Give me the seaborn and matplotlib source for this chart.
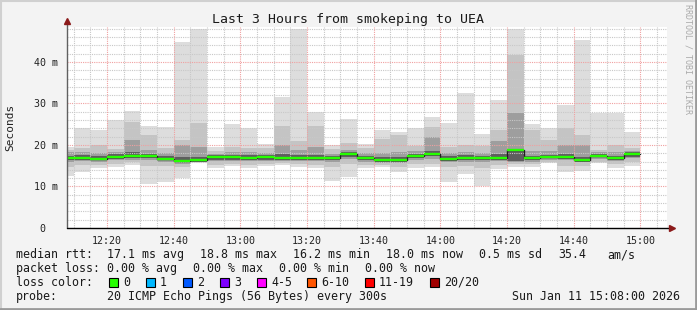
import numpy as np
import pandas as pd
import matplotlib
matplotlib.use("Agg")
import matplotlib.pyplot as plt
import matplotlib.dates as mdates
from matplotlib.patches import Rectangle
from matplotlib.lines import Line2D
import seaborn as sns

# ---------------- data ----------------
title = "Last 3 Hours from smokeping to UEA"
y_label = "Seconds"
bar_start = pd.date_range("2026-01-11 12:05", periods=35, freq="5min")

median = [16.9, 16.9, 16.7, 17.2, 17.4, 17.4, 16.7, 16.2, 16.4, 17.0, 17.0, 16.8, 17.0,
          16.9, 16.9, 16.9, 16.9, 17.8, 16.9, 16.4, 16.4, 17.3, 17.9, 16.7, 16.9, 16.9,
          16.9, 18.7, 16.9, 17.2, 17.2, 16.4, 17.4, 16.9, 17.8]
ping_max = [19.6, 24.2, 23.6, 26.0, 28.3, 24.6, 24.3, 44.7, 48.0, 19.4, 25.1, 24.0, 20.2,
            31.6, 48.0, 28.0, 19.9, 26.3, 20.2, 23.5, 23.1, 24.0, 26.8, 25.4, 32.6, 22.7,
            30.8, 48.0, 25.1, 24.2, 29.7, 45.3, 27.8, 27.8, 23.2]
ping_min = [12.5, 13.5, 14.5, 14.8, 15.3, 10.6, 11.2, 12.1, 15.6, 14.4, 14.9, 14.5, 14.9,
            15.2, 14.7, 14.5, 11.4, 12.4, 14.5, 14.7, 13.6, 14.5, 14.7, 11.0, 12.9, 10.2,
            14.1, 14.7, 14.7, 15.7, 13.6, 13.8, 15.6, 14.5, 15.0]
hi2 = [18.8, 19.3, 19.9, 19.1, 25.6, 22.4, 19.3, 21.2, 25.4, 18.5, 19.6, 19.3, 19.2,
       24.6, 21.0, 24.6, 19.0, 20.5, 19.2, 21.5, 22.4, 19.8, 24.4, 19.6, 19.9, 19.7,
       23.6, 41.7, 23.5, 21.2, 24.0, 22.4, 18.8, 20.0, 19.3]
lo2 = [14.8, 15.2, 15.2, 15.5, 15.8, 15.0, 15.0, 14.8, 15.8, 15.3, 15.5, 15.3, 15.5,
       15.6, 15.4, 15.3, 14.8, 15.5, 15.3, 15.2, 14.8, 15.5, 15.5, 14.6, 15.0, 14.5,
       15.3, 15.4, 15.4, 16.0, 15.0, 15.0, 16.0, 15.5, 15.8]
hi3 = [18.2, 18.4, 18.0, 18.4, 21.2, 18.8, 18.0, 20.0, 19.5, 17.9, 18.2, 18.2, 18.0,
       20.0, 18.8, 19.5, 17.9, 18.9, 18.0, 18.0, 18.2, 18.6, 22.0, 18.0, 18.3, 18.0,
       21.0, 27.8, 18.5, 18.6, 20.0, 20.0, 18.4, 18.3, 18.6]
lo3 = [16.0, 16.1, 15.9, 16.3, 16.4, 16.3, 15.8, 15.4, 16.0, 16.2, 16.2, 16.1, 16.2,
       16.2, 16.2, 16.1, 16.0, 16.6, 16.0, 15.7, 15.6, 16.4, 16.7, 15.8, 16.0, 16.0,
       16.1, 16.0, 16.0, 16.5, 16.3, 15.8, 16.6, 16.1, 16.8]
hi4 = [17.4, 17.5, 17.3, 17.8, 18.2, 17.8, 17.3, 17.2, 17.2, 17.5, 17.5, 17.5, 17.5,
       17.8, 17.6, 17.7, 17.4, 18.3, 17.4, 17.0, 17.0, 17.9, 18.6, 17.3, 17.5, 17.4,
       17.8, 18.9, 17.4, 17.7, 17.8, 17.2, 17.9, 17.4, 18.3]
lo4 = [16.4, 16.5, 16.3, 16.7, 16.8, 16.8, 16.3, 15.9, 16.0, 16.5, 16.5, 16.5, 16.5,
       16.5, 16.5, 16.5, 16.4, 17.2, 16.4, 16.0, 15.9, 16.8, 17.3, 16.2, 16.4, 16.4,
       16.4, 16.2, 16.4, 16.8, 16.7, 16.0, 17.0, 16.4, 17.2]

x_tick_labels = ["12:20", "12:40", "13:00", "13:20", "13:40", "14:00", "14:20", "14:40", "15:00"]
y_tick_values = [0, 10, 20, 30, 40]
y_tick_labels = ["0  ", "10 m", "20 m", "30 m", "40 m"]

loss_labels = ["0", "1", "2", "3", "4-5", "6-10", "11-19", "20/20"]
loss_colors = ["#26ff00", "#00b8ff", "#0059ff", "#7e00ff", "#ff00ff", "#ff5500", "#ff0000", "#a10000"]

# ---------------- style ----------------
sns.set_style("white")
plt.rcParams['font.family'] = ['DejaVu Sans Mono', 'DejaVu Sans']

W, H = 697, 310
fig = plt.figure(figsize=(W / 100, H / 100), dpi=100, facecolor='#f3f3f3')
ax = fig.add_axes([67 / W, (H - 228) / H, 600 / W, 201 / H])
ax.set_facecolor('white')

xs = mdates.date2num(bar_start.to_pydatetime())
w = 5 / 1440.0
x0 = mdates.date2num(pd.Timestamp("2026-01-11 12:08").to_pydatetime())
x1 = mdates.date2num(pd.Timestamp("2026-01-11 15:08").to_pydatetime())
ax.set_xlim(x0, x1)
ax.set_ylim(0, 48.43)

bands = [(ping_min, ping_max, '#dddddd'), (lo2, hi2, '#c4c4c4'),
         (lo3, hi3, '#9e9e9e'), (lo4, hi4, '#5e5e5e')]
for lo, hi, c in bands:
    lo = np.array(lo); hi = np.array(hi)
    ax.bar(xs, hi - lo, bottom=lo, width=w, align='edge', color=c, linewidth=0, zorder=1)

# grid (drawn above smoke, like rrdtool)
for v in np.arange(2, 48.5, 2):
    major = abs(v % 10) < 1e-9
    ax.axhline(v, color='#f0a0a0' if major else '#c8c8c8', ls=(0, (1, 1)), lw=0.8, zorder=2.5)
t = pd.date_range("2026-01-11 12:10", "2026-01-11 15:05", freq="5min")
for tt in t:
    major = tt.minute % 20 == 0
    ax.axvline(mdates.date2num(tt.to_pydatetime()), color='#f0a0a0' if major else '#c8c8c8',
               ls=(0, (1, 1)), lw=0.8, zorder=2.5)

# median line: dark steps + green segments
df = pd.DataFrame({"t": list(xs) + [xs[-1] + w], "rtt": median + [median[-1]]})
sns.lineplot(data=df, x="t", y="rtt", estimator=None, drawstyle='steps-post',
             color='#202020', lw=1.0, ax=ax, zorder=3)
ax.hlines(median, xs, xs + w, color='#26ff00', lw=1.7, zorder=4)

# ticks
major_ticks = [mdates.date2num(pd.Timestamp("2026-01-11 " + s).to_pydatetime()) for s in x_tick_labels]
ax.set_xticks(major_ticks)
ax.set_xticklabels(x_tick_labels, fontsize=7.2, color='#222222')
ax.set_yticks(y_tick_values)
ax.set_yticklabels(y_tick_labels, fontsize=7.2, color='#222222')
ax.tick_params(axis='x', length=2, pad=3.5, color='#444444', direction='out')
ax.tick_params(axis='y', length=2, pad=4.5, color='#444444', direction='out')
ax.set_xlabel("")
ax.set_ylabel("")
for s in ax.spines.values():
    s.set_visible(False)

# axis lines with arrows
ax.add_line(Line2D([0, 0], [0, 1.025], transform=ax.transAxes, color='#606060', lw=1.0, clip_on=False, zorder=5))
ax.add_line(Line2D([0, 1.005], [0, 0], transform=ax.transAxes, color='#000000', lw=1.0, clip_on=False, zorder=5))
ax.plot([0], [1.03], marker='^', ms=5, color='#8b1a1a', transform=ax.transAxes, clip_on=False, zorder=6)
ax.plot([1.008], [0], marker='>', ms=5, color='#8b1a1a', transform=ax.transAxes, clip_on=False, zorder=6)

# ---------------- texts ----------------
def ft(x, y, s, **kw):
    kw.setdefault('fontsize', 8.4)
    kw.setdefault('color', '#1a1a1a')
    kw.setdefault('va', 'center')
    kw.setdefault('ha', 'left')
    fig.text(x / W, 1 - y / H, s, **kw)

ft(347.5, 19, title, fontsize=9.5, ha='center')
ft(688, 4, "RRDTOOL / TOBI OETIKER", fontsize=6, color='#aaaaaa', rotation=270, va='top', ha='center')
ft(10.5, 127, y_label, fontsize=8, rotation=90, ha='center', color='#222222')

y1, y2, y3, y4 = 254.5, 268.3, 282.3, 296.3
ft(16, y1, "median rtt:")
ft(107, y1, "17.1 ms avg")
ft(200, y1, "18.8 ms max")
ft(293, y1, "16.2 ms min")
ft(386, y1, "18.0 ms now")
ft(479, y1, "0.5 ms sd")
ft(558, y1, "35.4")
ft(607, y1, "am/s")

ft(16, y2, "packet loss:")
ft(107, y2, "0.00 % avg")
ft(193, y2, "0.00 % max")
ft(279, y2, "0.00 % min")
ft(365, y2, "0.00 % now")

ft(16, y3, "loss color:")
box_x = [109, 146, 183, 220, 257, 307, 365, 430]
for bx, lab, col in zip(box_x, loss_labels, loss_colors):
    fig.patches.append(Rectangle((bx / W, 1 - (y3 + 4.5) / H), 9 / W, 9 / H,
                                 transform=fig.transFigure, facecolor=col,
                                 edgecolor='black', lw=0.8))
    ft(bx + 14, y3, lab)

ft(16, y4, "probe:")
ft(107, y4, "20 ICMP Echo Pings (56 Bytes) every 300s")
ft(680, y4, "Sun Jan 11 15:08:00 2026", ha='right')

# frame
fig.add_artist(Line2D([0, 1], [1 - 0.5 / H, 1 - 0.5 / H], transform=fig.transFigure, color='#d0d0d0', lw=1.5))
fig.add_artist(Line2D([0.5 / W, 0.5 / W], [0, 1], transform=fig.transFigure, color='#d0d0d0', lw=1.5))
fig.add_artist(Line2D([0, 1], [1 / H, 1 / H], transform=fig.transFigure, color='#9a9a9a', lw=2))
fig.add_artist(Line2D([1 - 1 / W, 1 - 1 / W], [0, 1], transform=fig.transFigure, color='#9a9a9a', lw=2))

fig.savefig("out.png", dpi=100, facecolor=fig.get_facecolor())
